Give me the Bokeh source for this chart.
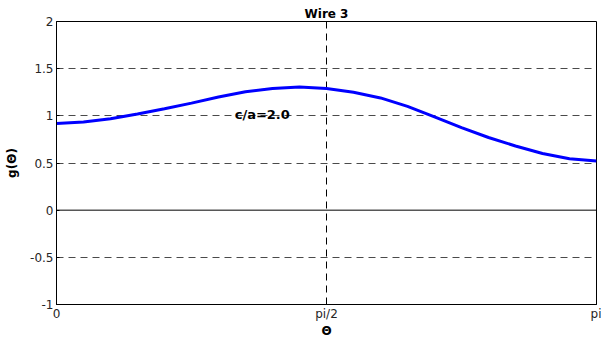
import numpy as np
from bokeh.plotting import figure
from bokeh.models import Range1d, FixedTicker, Span, Label
from bokeh.embed import file_html
from bokeh.resources import INLINE

# theta expressed as a fraction of pi
theta_over_pi = [0.00, 0.05, 0.10, 0.15, 0.20, 0.25, 0.30, 0.35, 0.40, 0.45, 0.50,
                 0.55, 0.60, 0.65, 0.70, 0.75, 0.80, 0.85, 0.90, 0.95, 1.00]
g_values = [0.920, 0.935, 0.970, 1.020, 1.075, 1.135, 1.200, 1.255, 1.290, 1.305, 1.290,
            1.250, 1.190, 1.100, 0.990, 0.875, 0.770, 0.680, 0.600, 0.545, 0.520]

x_ticks = [0, 0.5, 1]
x_tick_labels = ["0", "pi/2", "pi"]
y_ticks = [-1, -0.5, 0, 0.5, 1, 1.5, 2]
y_tick_labels = ["-1", "-0.5", "0", "0.5", "1", "1.5", "2"]
y_grid = [-0.5, 0.5, 1, 1.5]
x_grid = [0.5]

title_text = "Wire 3"
annotation_text = "c/a=2.0"
annotation_pos = (0.33, 1.01)

FONT = "DejaVu Sans"

p = figure(width=601, height=340, output_backend="svg", toolbar_location=None,
           x_range=Range1d(0, 1), y_range=Range1d(-1, 2),
           min_border_left=56, min_border_right=5, min_border_top=21, min_border_bottom=36)

p.title.text = title_text
p.title.align = "center"
p.title.text_font = FONT
p.title.text_font_size = "12px"
p.title.text_font_style = "bold"
p.title.text_color = "black"
p.title.standoff = 2

p.outline_line_color = "black"
p.outline_line_width = 1
p.outline_line_alpha = 1
p.background_fill_color = "white"
p.border_fill_color = "white"

p.xaxis.ticker = FixedTicker(ticks=x_ticks)
p.xaxis.major_label_overrides = {t: l for t, l in zip(x_ticks, x_tick_labels)}
p.yaxis.ticker = FixedTicker(ticks=y_ticks)
p.yaxis.major_label_overrides = {t: l for t, l in zip(y_ticks, y_tick_labels)}

for ax in (p.xaxis[0], p.yaxis[0]):
    ax.axis_line_color = "black"
    ax.major_tick_line_color = "black"
    ax.major_tick_in = 3
    ax.major_tick_out = 0
    ax.minor_tick_line_color = None
    ax.major_label_text_font = FONT
    ax.major_label_text_font_size = "12px"
    ax.major_label_text_color = "#262626"
    ax.axis_label_text_font = FONT
    ax.axis_label_text_font_size = "12px"
    ax.axis_label_text_font_style = "bold"
    ax.axis_label_text_color = "black"

p.xaxis.major_label_standoff = 2
p.yaxis.major_label_standoff = 3
p.xaxis.axis_label = "Θ"
p.xaxis.axis_label_standoff = 0
p.yaxis.axis_label = "g(Θ)"
p.yaxis.axis_label_standoff = 8

p.xgrid.ticker = FixedTicker(ticks=x_grid)
p.xgrid.grid_line_color = "black"
p.xgrid.grid_line_dash = "7 5"
p.xgrid.grid_line_width = 1
p.ygrid.ticker = FixedTicker(ticks=y_grid)
p.ygrid.grid_line_color = "#4a4a4a"
p.ygrid.grid_line_dash = "7 5"
p.ygrid.grid_line_width = 1

p.add_layout(Span(location=0, dimension="width", line_color="black", line_width=1))

p.line(theta_over_pi, g_values, line_color="blue", line_width=3)

p.add_layout(Label(x=annotation_pos[0], y=annotation_pos[1], text=annotation_text,
                   text_font=FONT, text_font_size="13px", text_font_style="bold",
                   text_color="black", text_baseline="alphabetic", text_align="left"))

open("out.html", "w").write(file_html(p, INLINE))
